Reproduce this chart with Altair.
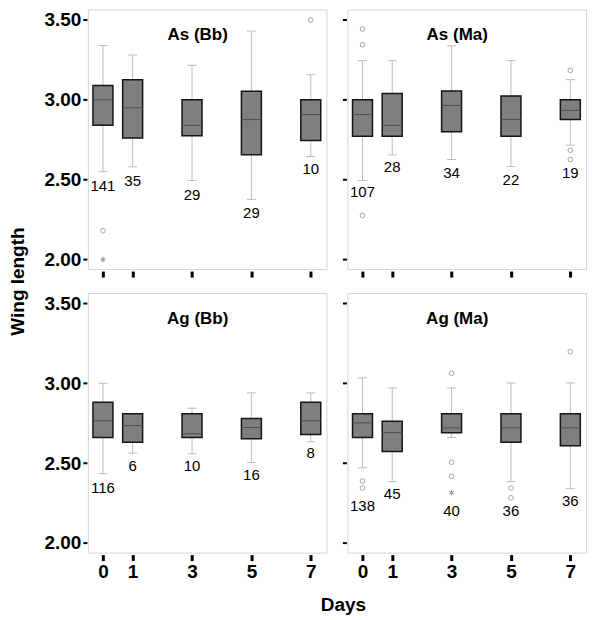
import altair as alt
import pandas as pd

FONT = "Liberation Sans"
days = [0, 1, 3, 5, 7]

# ---- As (Bb)
as_bb_lo = [2.55, 2.58, 2.495, 2.376, 2.645]
as_bb_q1 = [2.84, 2.76, 2.774, 2.655, 2.745]
as_bb_med = [3.00, 2.95, 2.84, 2.876, 2.907]
as_bb_q3 = [3.09, 3.126, 3.00, 3.053, 3.00]
as_bb_hi = [3.34, 3.28, 3.216, 3.43, 3.157]
as_bb_n = [141, 35, 29, 29, 10]
as_bb_label_y = [2.459, 2.49, 2.401, 2.293, 2.567]
as_bb_out_day = [0, 7]
as_bb_out_val = [2.18, 3.50]
as_bb_star_day = [0]
as_bb_star_val = [2.00]

# ---- As (Ma)
as_ma_lo = [2.495, 2.655, 2.626, 2.582, 2.716]
as_ma_q1 = [2.772, 2.772, 2.80, 2.772, 2.876]
as_ma_med = [2.907, 2.84, 2.964, 2.876, 2.934]
as_ma_q3 = [3.00, 3.04, 3.055, 3.024, 3.00]
as_ma_hi = [3.245, 3.245, 3.338, 3.245, 3.126]
as_ma_n = [107, 28, 34, 22, 19]
as_ma_label_y = [2.424, 2.58, 2.543, 2.50, 2.539]
as_ma_out_day = [0, 0, 0, 7, 7, 7]
as_ma_out_val = [3.443, 3.345, 2.276, 3.184, 2.684, 2.626]
as_ma_star_day = []
as_ma_star_val = []

# ---- Ag (Bb)
ag_bb_lo = [2.434, 2.563, 2.559, 2.504, 2.634]
ag_bb_q1 = [2.661, 2.631, 2.661, 2.652, 2.679]
ag_bb_med = [2.765, 2.735, 2.684, 2.723, 2.765]
ag_bb_q3 = [2.881, 2.809, 2.809, 2.779, 2.881]
ag_bb_hi = [3.00, 2.809, 2.844, 2.94, 2.94]
ag_bb_n = [116, 6, 10, 16, 8]
ag_bb_label_y = [2.346, 2.485, 2.483, 2.423, 2.565]
ag_bb_out_day = []
ag_bb_out_val = []
ag_bb_star_day = []
ag_bb_star_val = []

# ---- Ag (Ma)
ag_ma_lo = [2.471, 2.384, 2.661, 2.384, 2.34]
ag_ma_q1 = [2.661, 2.573, 2.69, 2.631, 2.609]
ag_ma_med = [2.752, 2.692, 2.721, 2.721, 2.721]
ag_ma_q3 = [2.81, 2.763, 2.81, 2.81, 2.81]
ag_ma_hi = [3.034, 2.971, 2.971, 3.002, 3.002]
ag_ma_n = [138, 45, 40, 36, 36]
ag_ma_label_y = [2.229, 2.308, 2.2, 2.2, 2.2625]
ag_ma_out_day = [0, 0, 3, 3, 3, 5, 5, 7]
ag_ma_out_val = [2.388, 2.344, 3.063, 2.506, 2.417, 2.344, 2.283, 3.198]
ag_ma_star_day = [3]
ag_ma_star_val = [2.315]

x_ticks = [0, 1, 3, 5, 7]
y_ticks = [2.0, 2.5, 3.0, 3.5]

PW, PH = 239, 260
ASTERISK = "M0,-1L0,1M-0.87,-0.5L0.87,0.5M-0.87,0.5L0.87,-0.5"


def panel(name, lo, q1, med, q3, hi, n, label_y, od, ov, sd, sv,
          x_labels, y_labels, y_title=False, x_title=False):
    df = pd.DataFrame({"day": days, "lo": lo, "q1": q1, "med": med,
                       "q3": q3, "hi": hi, "n": n, "ly": label_y})
    out = pd.DataFrame({"day": od, "v": ov})
    star = pd.DataFrame({"day": sd, "v": sv})

    xaxis = alt.Axis(values=x_ticks, format="d", labels=x_labels, grid=False,
                     domain=False, tickColor="black", tickSize=6, tickWidth=3,
                     offset=2, labelPadding=2, labelFont=FONT, labelFontSize=19,
                     labelFontWeight="bold", labelColor="black",
                     title="Days" if x_title else None,
                     **({"titleX": 255.5, "titlePadding": 14, "titleFont": FONT,
                         "titleFontSize": 19, "titleFontWeight": "bold",
                         "titleColor": "black"} if x_title else {}))
    yaxis = alt.Axis(values=y_ticks, format=".2f", labels=y_labels, grid=False,
                     domain=False, tickColor="black", tickSize=4, tickWidth=2,
                     offset=1, labelPadding=2, labelFont=FONT, labelFontSize=19,
                     labelFontWeight="bold", labelColor="black",
                     title="Wing length" if y_title else None,
                     **({"titleY": 272, "titlePadding": 16, "titleFont": FONT,
                         "titleFontSize": 19, "titleFontWeight": "bold",
                         "titleColor": "black"} if y_title else {}))
    xs = alt.Scale(domain=[-0.34, 7.36], nice=False, zero=False)
    ys = alt.Scale(domain=[1.94, 3.565], nice=False, zero=False)

    def X():
        return alt.X("day:Q", scale=xs, axis=xaxis)

    def Y(f):
        return alt.Y(f"{f}:Q", scale=ys, axis=yaxis)

    base = alt.Chart(df)
    whisk = base.mark_rule(color="#bdbdbd", strokeWidth=1).encode(
        x=X(), y=Y("lo"), y2="hi:Q")
    cap_lo = base.mark_tick(orient="horizontal", size=9, thickness=1,
                            color="#bdbdbd", opacity=1).encode(x=X(), y=Y("lo"))
    cap_hi = base.mark_tick(orient="horizontal", size=9, thickness=1,
                            color="#bdbdbd", opacity=1).encode(x=X(), y=Y("hi"))
    box = base.mark_bar(width=20, fill="#7f7f7f", stroke="#151515",
                        strokeWidth=1.5).encode(x=X(), y=Y("q1"), y2="q3:Q")
    median = base.mark_tick(orient="horizontal", size=20, thickness=1,
                            color="#4d4d4d", opacity=1).encode(x=X(), y=Y("med"))
    labels = base.mark_text(font=FONT, fontSize=15, color="black",
                            baseline="middle").encode(x=X(), y=Y("ly"), text="n:N")
    layers = [whisk, cap_lo, cap_hi, box, median, labels]
    if len(out):
        layers.append(alt.Chart(out).mark_point(
            shape="circle", filled=False, size=22, stroke="#a6a6a6",
            strokeWidth=1, opacity=1).encode(x=X(), y=Y("v")))
    if len(star):
        layers.append(alt.Chart(star).mark_point(
            shape=ASTERISK, filled=False, size=30, stroke="#8c8c8c",
            strokeWidth=1, opacity=1).encode(x=X(), y=Y("v")))
    ttl = alt.Chart(pd.DataFrame({"t": [name]})).mark_text(
        font=FONT, fontSize=17, fontWeight="bold", color="black",
        baseline="middle", align="center").encode(
        text="t:N", x=alt.value(110), y=alt.value(26))
    layers.append(ttl)
    return alt.layer(*layers).properties(width=PW, height=PH)


p1 = panel("As (Bb)", as_bb_lo, as_bb_q1, as_bb_med, as_bb_q3, as_bb_hi, as_bb_n,
           as_bb_label_y, as_bb_out_day, as_bb_out_val, as_bb_star_day, as_bb_star_val,
           x_labels=False, y_labels=True, y_title=True)
p2 = panel("As (Ma)", as_ma_lo, as_ma_q1, as_ma_med, as_ma_q3, as_ma_hi, as_ma_n,
           as_ma_label_y, as_ma_out_day, as_ma_out_val, as_ma_star_day, as_ma_star_val,
           x_labels=False, y_labels=False)
p3 = panel("Ag (Bb)", ag_bb_lo, ag_bb_q1, ag_bb_med, ag_bb_q3, ag_bb_hi, ag_bb_n,
           ag_bb_label_y, ag_bb_out_day, ag_bb_out_val, ag_bb_star_day, ag_bb_star_val,
           x_labels=True, y_labels=True, x_title=True)
p4 = panel("Ag (Ma)", ag_ma_lo, ag_ma_q1, ag_ma_med, ag_ma_q3, ag_ma_hi, ag_ma_n,
           ag_ma_label_y, ag_ma_out_day, ag_ma_out_val, ag_ma_star_day, ag_ma_star_val,
           x_labels=True, y_labels=False)

chart = alt.concat(p1, p2, p3, p4, columns=2,
                   spacing=alt.RowColnumber(row=24, column=21),
                   bounds="flush").properties(
    padding={"left": 0, "top": 0, "right": 5, "bottom": 5},
    background="white",
).configure_view(stroke="#d6d6d6", strokeWidth=1)

chart.save("out.html", embed_options={"renderer": "svg", "actions": False})
